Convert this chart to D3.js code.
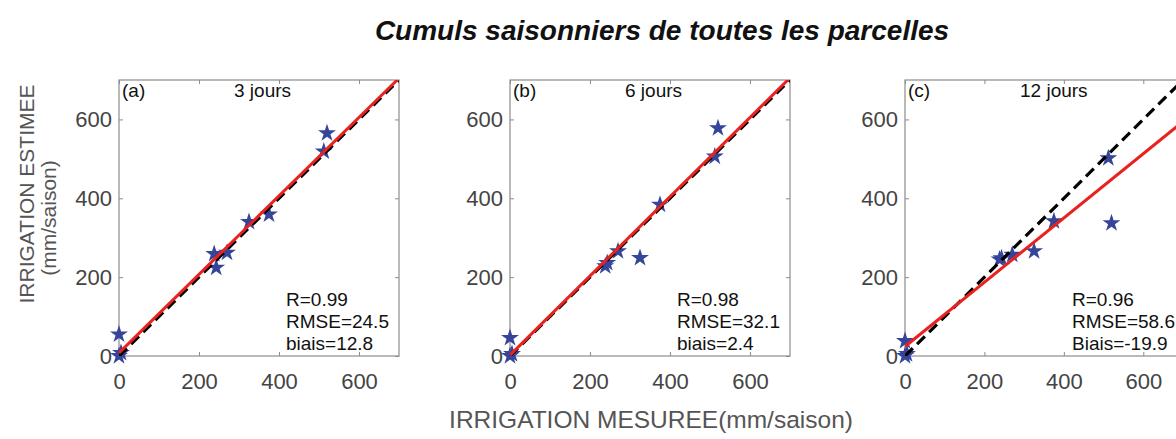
<!DOCTYPE html>
<html>
<head>
<meta charset="utf-8">
<script src="https://cdn.jsdelivr.net/npm/d3@7"></script>
<style>
  body { margin: 0; background: #fff; }
  svg { display: block; font-family: "Liberation Sans", Arial, sans-serif; }
</style>
</head>
<body>
<svg id="chart" width="1176" height="439"></svg>
<script>
// Seasonal irrigation totals: measured vs estimated, for three revisit intervals
const panelTags = ["(a)", "(b)", "(c)"];
const windowLabels = ["3 jours", "6 jours", "12 jours"];
const measured = [0, 0, 5, 238, 243, 270, 325, 375, 512, 520];
const estimated3 = [55, 0, 8, 259, 224, 262, 340, 359, 519, 565];
const estimated6 = [46, 0, 5, 228, 236, 266, 249, 384, 506, 578];
const estimated12 = [38, 0, 5, 245, 248, 257, 266, 342, 502, 337];
const fitSlope = [0.995, 1.005, 0.815];
const fitIntercept = [8, 2, 24];
const rValues = ["0.99", "0.98", "0.96"];
const rmseValues = ["24.5", "32.1", "58.6"];
const biasValues = ["12.8", "2.4", "-19.9"];
const biasWords = ["biais", "biais", "Biais"];
const tickValues = [0, 200, 400, 600];
const axisMax = 700;

const estimatedSeries = [estimated3, estimated6, estimated12];

const svg = d3.select("#chart");
svg.append("rect").attr("width", 1176).attr("height", 439).attr("fill", "#fff");

// panel frames
const panelLeft = [119, 510, 905];
const panelWidth = [280, 280, 278];
const panelTop = 80;
const panelHeight = 276;

const starColor = "#36459a";
const tickTextColor = "#444";
const frameColor = "#8c8c8c";

svg.append("text")
  .attr("x", 662).attr("y", 40)
  .attr("text-anchor", "middle")
  .attr("font-size", 28).attr("font-weight", "bold").attr("font-style", "italic")
  .attr("fill", "#111")
  .text("Cumuls saisonniers de toutes les parcelles");

estimatedSeries.forEach((est, i) => {
  const left = panelLeft[i];
  const w = panelWidth[i];
  const x = d3.scaleLinear().domain([0, axisMax]).range([0, w]);
  const y = d3.scaleLinear().domain([0, axisMax]).range([panelHeight, 0]);

  const g = svg.append("g").attr("transform", `translate(${left},${panelTop})`);

  const clipId = "clip" + i;
  g.append("clipPath").attr("id", clipId)
    .append("rect").attr("width", w).attr("height", panelHeight);

  // bottom axis with labels
  const ax = g.append("g").attr("transform", `translate(0,${panelHeight})`)
    .call(d3.axisBottom(x).tickValues(tickValues).tickSize(-4).tickPadding(17));
  // left axis with labels
  const ay = g.append("g")
    .call(d3.axisLeft(y).tickValues(tickValues).tickSize(-4).tickPadding(7));
  // mirrored ticks on top and right
  const at = g.append("g")
    .call(d3.axisTop(x).tickValues(tickValues).tickSize(-4).tickFormat(""));
  const ar = g.append("g").attr("transform", `translate(${w},0)`)
    .call(d3.axisRight(y).tickValues(tickValues).tickSize(-4).tickFormat(""));

  [ax, ay, at, ar].forEach(a => {
    a.select(".domain").remove();
    a.selectAll("line").attr("stroke", frameColor);
    a.selectAll("text").attr("font-size", 22).attr("fill", tickTextColor)
      .attr("font-family", "Liberation Sans, Arial, sans-serif");
  });

  g.append("rect").attr("width", w).attr("height", panelHeight)
    .attr("fill", "none").attr("stroke", frameColor).attr("stroke-width", 1.2);

  // measured vs estimated points (not clipped: markers on the axes spill over)
  g.selectAll("path.star")
    .data(measured.map((m, k) => [m, est[k]]))
    .join("path")
    .attr("class", "star")
    .attr("transform", d => `translate(${x(d[0])},${y(d[1])})`)
    .attr("d", d3.symbol(d3.symbolStar, 100))
    .attr("fill", starColor);

  const plot = g.append("g").attr("clip-path", `url(#${clipId})`);

  // 1:1 reference line
  plot.append("line")
    .attr("x1", x(0)).attr("y1", y(0))
    .attr("x2", x(axisMax)).attr("y2", y(axisMax))
    .attr("stroke", "#000").attr("stroke-width", 3.2)
    .attr("stroke-dasharray", "11,6");

  // regression line
  plot.append("line")
    .attr("x1", x(0)).attr("y1", y(fitIntercept[i]))
    .attr("x2", x(axisMax)).attr("y2", y(fitIntercept[i] + fitSlope[i] * axisMax))
    .attr("stroke", "#e8221f").attr("stroke-width", 3);

  g.append("text").attr("x", 3).attr("y", 17)
    .attr("font-size", 19).attr("fill", "#111").text(panelTags[i]);
  g.append("text").attr("x", 115).attr("y", 17)
    .attr("font-size", 19).attr("fill", "#111").text(windowLabels[i]);

  const stats = [
    "R=" + rValues[i],
    "RMSE=" + rmseValues[i],
    biasWords[i] + "=" + biasValues[i]
  ];
  g.selectAll("text.stat").data(stats).join("text")
    .attr("class", "stat")
    .attr("x", 167)
    .attr("y", (d, k) => 226 + k * 22)
    .attr("font-size", 19).attr("fill", "#111")
    .text(d => d);
});

// shared axis titles
svg.append("text")
  .attr("transform", "translate(34,194) rotate(-90)")
  .attr("text-anchor", "middle")
  .attr("font-size", 21).attr("fill", "#555")
  .text("IRRIGATION ESTIMEE");
svg.append("text")
  .attr("transform", "translate(56,218) rotate(-90)")
  .attr("text-anchor", "middle")
  .attr("font-size", 21).attr("fill", "#555")
  .text("(mm/saison)");
svg.append("text")
  .attr("x", 651).attr("y", 428)
  .attr("text-anchor", "middle")
  .attr("font-size", 24.5).attr("fill", "#555")
  .text("IRRIGATION MESUREE(mm/saison)");
</script>
</body>
</html>
